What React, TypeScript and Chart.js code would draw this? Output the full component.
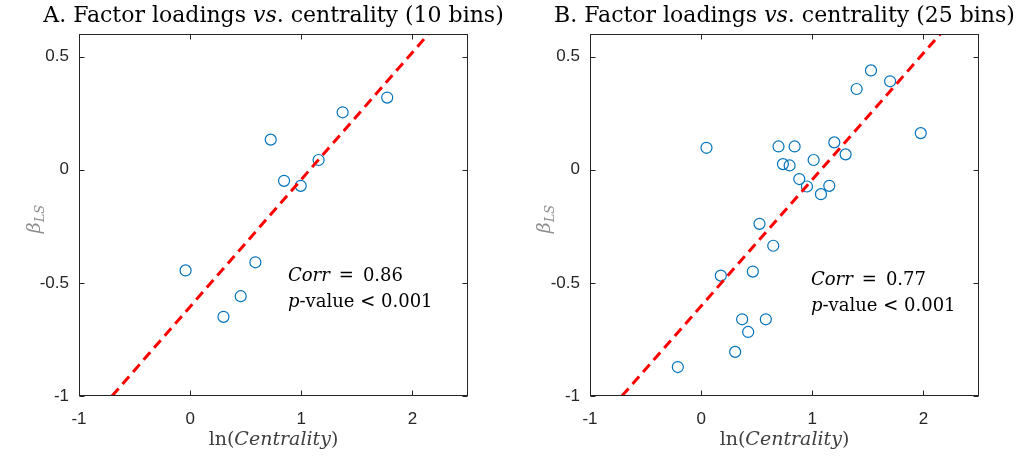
import React, { useEffect, useRef } from "react";
import { Chart, registerables } from "chart.js";

Chart.register(...registerables);

// ---------- data ----------
const X_MIN = -1;
const X_MAX = 2.5;
const Y_MIN = -1;
const Y_MAX = 0.6;
const X_TICKS = [-1, 0, 1, 2];
const Y_TICKS = [-1, -0.5, 0, 0.5];

const centralityA = [-0.041, 0.3, 0.455, 0.587, 0.725, 0.845, 0.995, 1.156, 1.372, 1.773];
const betaA = [-0.445, -0.65, -0.559, -0.409, 0.133, -0.049, -0.071, 0.043, 0.254, 0.319];

const centralityB = [
  -0.21, 0.048, 0.177, 0.306, 0.369, 0.423, 0.465, 0.525, 0.582, 0.649,
  0.696, 0.736, 0.796, 0.841, 0.883, 0.952, 1.012, 1.078, 1.153, 1.198,
  1.3, 1.399, 1.528, 1.7, 1.976,
];
const betaB = [
  -0.872, 0.097, -0.468, -0.805, -0.661, -0.717, -0.45, -0.239, -0.661, -0.336,
  0.103, 0.025, 0.019, 0.103, -0.041, -0.074, 0.043, -0.108, -0.071, 0.121,
  0.068, 0.357, 0.439, 0.391, 0.162,
];

// least-squares fit lines: [slope, intercept]
const fitA = [0.562, -0.605];
const fitB = [0.5585, -0.602];

const titleA = ["A. Factor loadings ", "vs", ". centrality (10 bins)"];
const titleB = ["B. Factor loadings ", "vs", ". centrality (25 bins)"];
const corrA = "0.86";
const corrB = "0.77";
const pText = "0.001";

const SERIF = '"DejaVu Serif", "Liberation Serif", serif';

type Seg = { t: string; i: boolean; size?: number; dy?: number };

function drawSegs(ctx: CanvasRenderingContext2D, segs: Seg[], x: number, y: number, size: number, align: "left" | "center", color: string) {
  ctx.save();
  ctx.fillStyle = color;
  ctx.textBaseline = "alphabetic";
  ctx.textAlign = "left";
  const fontOf = (s: Seg) => `${s.i ? "italic " : ""}${s.size ?? size}px ${SERIF}`;
  let total = 0;
  for (const s of segs) {
    ctx.font = fontOf(s);
    total += ctx.measureText(s.t).width;
  }
  let cx = align === "center" ? x - total / 2 : x;
  for (const s of segs) {
    ctx.font = fontOf(s);
    ctx.fillText(s.t, cx, y + (s.dy ?? 0));
    cx += ctx.measureText(s.t).width;
  }
  ctx.restore();
}

function makeChart(
  canvas: HTMLCanvasElement,
  xs: number[],
  ys: number[],
  fit: number[],
  title: string[],
  corr: string,
  yAxisWidth: number,
  padRight: number,
  textX: number,
  textY: number
) {
  const pts = xs.map((x, i) => ({ x, y: ys[i] }));
  const [m, b] = fit;
  const xLo = Math.max(X_MIN, (Y_MIN - b) / m);
  const xHi = Math.min(X_MAX, (Y_MAX - b) / m);
  const line = [
    { x: xLo, y: m * xLo + b },
    { x: xHi, y: m * xHi + b },
  ];

  const deco = {
    id: "deco",
    afterDraw(chart: any) {
      const ctx = chart.ctx as CanvasRenderingContext2D;
      const a = chart.chartArea;
      const xs_ = chart.scales.x;
      const ys_ = chart.scales.y;
      ctx.save();
      ctx.strokeStyle = "#262626";
      ctx.lineWidth = 1;
      const L = Math.round(a.left) + 0.5;
      const R = Math.round(a.right) - 0.5;
      const T = Math.round(a.top) + 0.5;
      const B = Math.round(a.bottom) - 0.5;
      ctx.strokeRect(L, T, R - L, B - T);
      const tl = 5;
      ctx.beginPath();
      for (const v of X_TICKS) {
        const px = Math.round(xs_.getPixelForValue(v)) + 0.5;
        ctx.moveTo(px, B);
        ctx.lineTo(px, B - tl);
        ctx.moveTo(px, T);
        ctx.lineTo(px, T + tl);
      }
      for (const v of Y_TICKS) {
        const py = Math.round(ys_.getPixelForValue(v)) + 0.5;
        ctx.moveTo(L, py);
        ctx.lineTo(L + tl, py);
        ctx.moveTo(R, py);
        ctx.lineTo(R - tl, py);
      }
      ctx.stroke();
      ctx.restore();

      const cxp = (a.left + a.right) / 2;
      const cyp = (a.top + a.bottom) / 2;
      // title
      drawSegs(ctx, [
        { t: title[0], i: false },
        { t: title[1], i: true },
        { t: title[2], i: false },
      ], cxp, 22, 22, "center", "#000000");
      // x label
      drawSegs(ctx, [
        { t: "ln(", i: false },
        { t: "Centrality", i: true },
        { t: ")", i: false },
      ], cxp, 445, 19, "center", "#404040");
      // y label (rotated)
      ctx.save();
      ctx.translate(40, cyp + 4);
      ctx.rotate(-Math.PI / 2);
      drawSegs(ctx, [
        { t: "β", i: true },
        { t: "LS", i: true, size: 13, dy: 4 },
      ], 0, 0, 19, "center", "#8c8c8c");
      ctx.restore();
      // annotation
      drawSegs(ctx, [
        { t: "Corr", i: true },
        { t: "\u2002=\u2002" + corr, i: false },
      ], textX, textY, 18, "left", "#000000");
      drawSegs(ctx, [
        { t: "p", i: true },
        { t: "-value < " + pText, i: false },
      ], textX, textY + 26, 18, "left", "#000000");
    },
  };

  const tickFont = { family: '"Liberation Sans", Arial, sans-serif', size: 17 };

  return new Chart(canvas, {
    type: "scatter",
    data: {
      datasets: [
        {
          type: "line",
          data: line,
          borderColor: "#ff0000",
          borderWidth: 3,
          borderDash: [10, 6],
          pointRadius: 0,
          fill: false,
          showLine: true,
        } as any,
        {
          data: pts,
          pointRadius: 5.5,
          pointBorderWidth: 1.2,
          pointBorderColor: "#0072BD",
          pointBackgroundColor: "rgba(0,0,0,0)",
          showLine: false,
        },
      ],
    },
    options: {
      responsive: false,
      animation: false,
      events: [],
      layout: { padding: { top: 34, right: padRight, left: 0, bottom: 0 } },
      plugins: { legend: { display: false }, tooltip: { enabled: false }, title: { display: false } },
      scales: {
        x: {
          type: "linear",
          min: X_MIN,
          max: X_MAX,
          afterBuildTicks: (s: any) => {
            s.ticks = X_TICKS.map((v) => ({ value: v }));
          },
          afterFit: (s: any) => {
            s.height = 60;
          },
          grid: { display: false, drawTicks: false },
          border: { display: false },
          ticks: { padding: 13, font: tickFont, color: "#262626", callback: (v: any) => String(v), maxRotation: 0 },
        },
        y: {
          type: "linear",
          min: Y_MIN,
          max: Y_MAX,
          afterBuildTicks: (s: any) => {
            s.ticks = Y_TICKS.map((v) => ({ value: v }));
          },
          afterFit: (s: any) => {
            s.width = yAxisWidth;
          },
          grid: { display: false, drawTicks: false },
          border: { display: false },
          ticks: { padding: 10, font: tickFont, color: "#262626", callback: (v: any) => String(v) },
        },
      },
    },
    plugins: [deco],
  } as any);
}

export default function App() {
  const refA = useRef<HTMLCanvasElement>(null);
  const refB = useRef<HTMLCanvasElement>(null);
  useEffect(() => {
    const a = makeChart(refA.current!, centralityA, betaA, fitA, titleA, corrA, 79, 42, 288, 281);
    const b = makeChart(refB.current!, centralityB, betaB, fitB, titleB, corrB, 80, 41, 301, 285);
    return () => {
      a.destroy();
      b.destroy();
    };
  }, []);
  return (
    <div style={{ position: "absolute", left: 0, top: 0, width: 1020, height: 456, background: "#fff" }}>
      <canvas ref={refA} width={510} height={456} style={{ position: "absolute", left: 0, top: 0 }} />
      <canvas ref={refB} width={510} height={456} style={{ position: "absolute", left: 510, top: 0 }} />
    </div>
  );
}
